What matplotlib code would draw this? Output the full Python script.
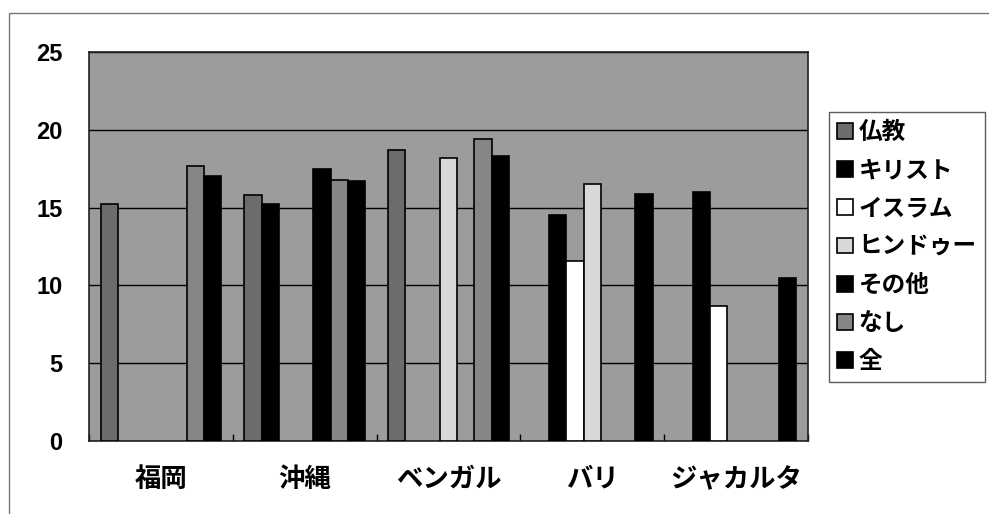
import matplotlib
matplotlib.use("Agg")
import matplotlib.pyplot as plt
from matplotlib.patches import Rectangle
import numpy as np

plt.rcParams['font.family'] = ['Noto Sans CJK JP', 'DejaVu Sans']

# Regions on the x axis
categories = ["福岡", "沖縄", "ベンガル", "バリ", "ジャカルタ"]

# Series (religion groups); None = no bar for that region
series_names = ["仏教", "キリスト", "イスラム", "ヒンドゥー", "その他", "なし", "全"]
buddhism  = [15.2, 15.8, 18.7, None, None]
christian = [None, 15.2, None, 14.5, 16.0]
islam     = [None, None, None, 11.6, 8.7]
hindu     = [None, None, 18.2, 16.5, None]
other     = [None, 17.5, None, None, None]
none_rel  = [17.7, 16.8, 19.4, None, None]
overall   = [17.0, 16.7, 18.3, 15.9, 10.5]

yticks = [0, 5, 10, 15, 20, 25]

series_values = [buddhism, christian, islam, hindu, other, none_rel, overall]
face_colors = ["#6c6c6c", "#000000", "#ffffff", "#d8d8d8", "#000000", "#868686", "#000000"]

fig = plt.figure(figsize=(9.89, 5.14), dpi=100)
ax = fig.add_axes([89 / 989, 1 - 441 / 514, (808 - 89) / 989, (441 - 52) / 514])
ax.set_facecolor("#9c9c9c")

n = len(series_names)
width = 0.12
x = np.arange(len(categories))
for j, (name, vals, fc) in enumerate(zip(series_names, series_values, face_colors)):
    xs = [xi + (j - (n - 1) / 2) * width for xi, v in zip(x, vals) if v is not None]
    hs = [v for v in vals if v is not None]
    ax.bar(xs, hs, width=width, color=fc, edgecolor="black", linewidth=1.2,
           label=name, zorder=3)

ax.set_xlim(-0.5, len(categories) - 0.5)
ax.set_ylim(0, 25)
ax.set_yticks(yticks)
ax.set_yticklabels([str(t) for t in yticks], fontsize=17, fontweight="bold",
                   family=["Liberation Sans", "DejaVu Sans"])
ax.set_xticks(x)
ax.set_xticklabels(categories, fontsize=19, fontweight="bold")
ax.set_xticks(np.arange(len(categories) + 1) - 0.5, minor=True)
ax.tick_params(axis="x", which="major", length=0, pad=18)
ax.tick_params(axis="x", which="minor", direction="in", length=5, width=1, color="black")
ax.tick_params(axis="y", which="major", length=0, pad=19)

ax.yaxis.grid(True, color="black", linewidth=1.0, zorder=1)
ax.set_axisbelow(True)
for side in ["top", "right", "left", "bottom"]:
    ax.spines[side].set_color("#222222")
    ax.spines[side].set_linewidth(1.2)

# Outer chart frame
fig.patches.append(Rectangle((9 / 989, -0.05), 1.1, 1 - 13 / 514 + 0.05,
                             transform=fig.transFigure, fill=False,
                             edgecolor="#777777", linewidth=1.0))

leg = fig.legend(loc="upper left", bbox_to_anchor=(829 / 989, 1 - 112 / 514),
                 bbox_transform=fig.transFigure, borderaxespad=0,
                 prop={"size": 17, "weight": "bold"},
                 frameon=True, fancybox=False, edgecolor="#333333",
                 handlelength=0.65, handleheight=0.65, handletextpad=0.25,
                 labelspacing=0.6, borderpad=0.35)
leg.get_frame().set_linewidth(1.0)

fig.savefig("out.png", dpi=100)
